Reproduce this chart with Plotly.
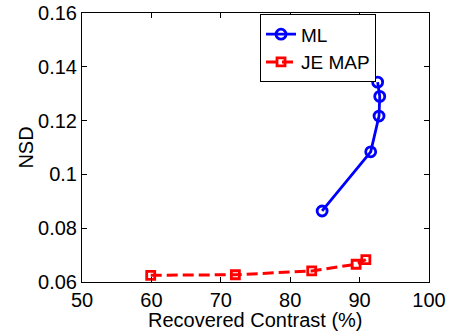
import plotly.graph_objects as go

ml_x = [84.6, 91.6, 92.8, 92.9, 92.6]
ml_y = [0.0864, 0.1084, 0.1217, 0.1290, 0.1343]
je_x = [59.9, 72.1, 83.1, 89.5, 90.9]
je_y = [0.0625, 0.0627, 0.0641, 0.0666, 0.0683]

x_ticks = [50, 60, 70, 80, 90, 100]
y_ticks = [0.06, 0.08, 0.1, 0.12, 0.14, 0.16]
y_labels = ["0.06", "0.08", "0.1", "0.12", "0.14", "0.16"]

fig = go.Figure()
fig.add_trace(go.Scatter(
    x=ml_x, y=ml_y, name="ML", mode="lines+markers",
    line=dict(color="#0000ff", width=2.8),
    marker=dict(symbol="circle-open", size=10, color="#0000ff", line=dict(width=2.8, color="#0000ff")),
))
fig.add_trace(go.Scatter(
    x=je_x, y=je_y, name="JE MAP", mode="lines+markers",
    line=dict(color="#ff0000", width=3, dash="11px,5px"),
    marker=dict(symbol="square-open", size=8, color="#ff0000", line=dict(width=2.8, color="#ff0000")),
))

fam = "Liberation Sans, Arial, Helvetica, sans-serif"
font = dict(family=fam, size=20, color="black")
axis_common = dict(
    showgrid=False, zeroline=False, showline=True, linecolor="black", linewidth=1,
    mirror="ticks", ticks="inside", ticklen=5, tickcolor="black", tickfont=font,
    automargin=False,
)
fig.update_layout(
    width=449, height=332,
    margin=dict(l=82, r=20, t=13, b=50),
    paper_bgcolor="white", plot_bgcolor="white",
    font=font,
    showlegend=True,
    legend=dict(
        x=0.513, y=0.995, xanchor="left", yanchor="top",
        bordercolor="black", borderwidth=1, bgcolor="white",
        font=dict(family=fam, size=19, color="black"),
        tracegroupgap=0, itemwidth=30,
    ),
    xaxis=dict(range=[50, 100], tickvals=x_ticks, ticktext=[str(v) for v in x_ticks], **axis_common),
    yaxis=dict(range=[0.06, 0.16], tickvals=y_ticks, ticktext=y_labels, **axis_common),
    annotations=[
        dict(text="Recovered Contrast (%)", xref="paper", yref="paper",
             x=0.5, y=-0.14, xanchor="center", yanchor="middle",
             showarrow=False, font=font),
        dict(text="NSD", xref="paper", yref="paper", textangle=-90,
             x=-0.164, y=0.5, xanchor="center", yanchor="middle",
             showarrow=False, font=font),
    ],
)
fig.write_html("out.html", config={"displayModeBar": False},
               post_script="document.body.style.margin='0';document.body.style.overflow='hidden';")
